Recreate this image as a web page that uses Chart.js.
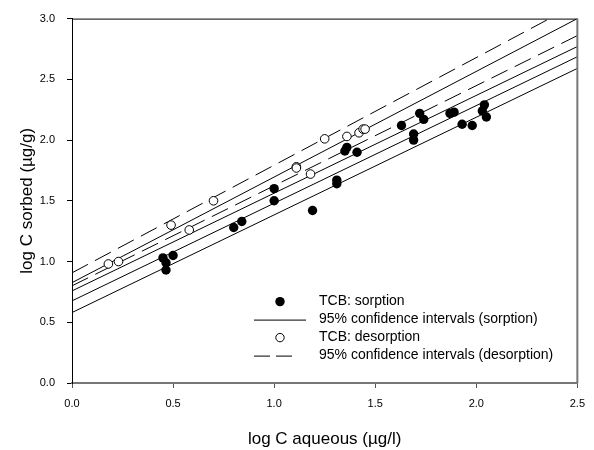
<!DOCTYPE html>
<html>
<head>
<meta charset="utf-8">
<script src="https://cdn.jsdelivr.net/npm/chart.js@4.4.0/dist/chart.umd.min.js"></script>
<style>
    html, body { margin: 0; padding: 0; background: #fff; }
</style>
</head>
<body>
<canvas id="myChart" width="594" height="450"></canvas>
<script>
// TCB sorption / desorption, log C aqueous vs log C sorbed
const sorptionX = [0.45, 0.465, 0.465, 0.50, 0.80, 0.84, 1.00, 1.00, 1.19, 1.31, 1.31, 1.35, 1.36, 1.41,
    1.63, 1.69, 1.69, 1.72, 1.74, 1.87, 1.89, 1.93, 1.98, 2.03, 2.04, 2.05];
const sorptionY = [1.03, 0.99, 0.93, 1.05, 1.28, 1.33, 1.60, 1.50, 1.42, 1.67, 1.64, 1.91, 1.94, 1.90,
    2.12, 2.05, 2.00, 2.22, 2.17, 2.22, 2.23, 2.13, 2.12, 2.24, 2.29, 2.19];

const desorptionX = [0.18, 0.23, 0.49, 0.58, 0.70, 1.11, 1.11, 1.18, 1.25, 1.36, 1.42, 1.44, 1.45];
const desorptionY = [0.98, 1.00, 1.30, 1.26, 1.50, 1.78, 1.77, 1.72, 2.01, 2.03, 2.06, 2.09, 2.09];

// regression lines and 95% CI, values at x = 0 and x = 2.5
const lineX = [0, 2.5];
const sorptionFit = [0.676, 2.686];
const sorptionUpper = [0.758, 2.77];
const sorptionLower = [0.58, 2.59];
const desorptionFit = [0.826, 3.0];
const desorptionUpper = [0.907, 3.122];
const desorptionLower = [0.80, 2.86];

const xTicks = [0, 0.5, 1, 1.5, 2, 2.5];
const yTicks = [0, 0.5, 1, 1.5, 2, 2.5, 3];

const legendLabels = [
    "TCB: sorption",
    "95% confidence intervals (sorption)",
    "TCB: desorption",
    "95% confidence intervals (desorption)",
];

const FONT = "Arial, 'Liberation Sans', sans-serif";

function toPoints(xs, ys) {
    return xs.map((x, i) => ({ x: x, y: ys[i] }));
}

function lineSet(ys, dashed) {
    return {
        type: "line",
        data: toPoints(lineX, ys),
        borderColor: "#000",
        borderWidth: 1,
        borderDash: dashed ? [18, 8] : [],
        pointRadius: 0,
        fill: false,
        showLine: true,
    };
}

// frame on top/right + legend inside the plot
const frameAndLegend = {
    id: "frameAndLegend",
    afterDraw(chart) {
        const c = chart.ctx;
        const a = chart.chartArea;
        c.save();
        c.strokeStyle = "#000";
        c.lineWidth = 1;
        c.beginPath();
        c.moveTo(a.left, a.top + 0.5);
        c.lineTo(a.right, a.top + 0.5);
        c.stroke();
        c.strokeStyle = "#777";
        c.lineWidth = 2;
        c.beginPath();
        c.moveTo(a.right, a.top);
        c.lineTo(a.right, a.bottom);
        c.stroke();

        const sx = a.left + 208;
        const tx = a.left + 247;
        const rows = [0, 1, 2, 3].map((i) => a.top + 283 + i * 18);
        c.font = "14px " + FONT;
        c.fillStyle = "#000";
        c.strokeStyle = "#000";
        c.lineWidth = 1;
        c.textBaseline = "middle";
        legendLabels.forEach((t, i) => c.fillText(t, tx, rows[i]));

        c.beginPath();
        c.arc(sx, rows[0], 4.7, 0, Math.PI * 2);
        c.fill();

        c.beginPath();
        c.moveTo(sx - 26, rows[1] + 0.5);
        c.lineTo(sx + 26, rows[1] + 0.5);
        c.stroke();

        c.beginPath();
        c.arc(sx, rows[2], 4.2, 0, Math.PI * 2);
        c.fillStyle = "#fff";
        c.fill();
        c.stroke();

        c.setLineDash([16, 6]);
        c.beginPath();
        c.moveTo(sx - 26, rows[3] + 0.5);
        c.lineTo(sx + 12, rows[3] + 0.5);
        c.stroke();
        c.restore();
    },
};

const ctx = document.getElementById("myChart").getContext("2d");
const myChart = new Chart(ctx, {
    type: "scatter",
    data: {
        datasets: [
            {
                data: toPoints(sorptionX, sorptionY),
                pointRadius: 4.7,
                pointBackgroundColor: "#000",
                pointBorderColor: "#000",
                pointBorderWidth: 0,
            },
            {
                data: toPoints(desorptionX, desorptionY),
                pointRadius: 4.3,
                pointBackgroundColor: "#fff",
                pointBorderColor: "#000",
                pointBorderWidth: 1,
            },
            lineSet(sorptionFit, false),
            lineSet(sorptionUpper, false),
            lineSet(sorptionLower, false),
            lineSet(desorptionFit, false),
            lineSet(desorptionUpper, true),
            lineSet(desorptionLower, true),
        ],
    },
    options: {
        responsive: false,
        animation: false,
        events: [],
        layout: { padding: { top: 15, right: 10, left: 0, bottom: 0 } },
        plugins: { legend: { display: false }, tooltip: { enabled: false } },
        scales: {
            x: {
                type: "linear",
                min: 0,
                max: 2.5,
                afterBuildTicks: (s) => { s.ticks = xTicks.map((v) => ({ value: v })); },
                afterFit: (s) => { s.height = 67; },
                ticks: {
                    callback: (v) => v.toFixed(1),
                    color: "#000",
                    font: { family: FONT, size: 11 },
                    padding: 9,
                    maxRotation: 0,
                },
                grid: { drawOnChartArea: false, drawTicks: true, tickLength: 5, color: "#555" },
                border: { display: true, color: "#777", width: 2 },
                title: {
                    display: true,
                    text: "log C aqueous (µg/l)",
                    color: "#000",
                    font: { family: FONT, size: 17 },
                    padding: { top: 0, bottom: 0 },
                },
            },
            y: {
                type: "linear",
                min: 0,
                max: 3,
                afterBuildTicks: (s) => { s.ticks = yTicks.map((v) => ({ value: v })); },
                afterFit: (s) => { s.width = 72; },
                ticks: {
                    callback: (v) => v.toFixed(1),
                    color: "#000",
                    font: { family: FONT, size: 11 },
                    padding: 12,
                },
                grid: { drawOnChartArea: false, drawTicks: true, tickLength: 5, color: "#000" },
                border: { display: true, color: "#000", width: 1 },
                title: {
                    display: true,
                    text: "log C sorbed (µg/g)",
                    color: "#000",
                    font: { family: FONT, size: 17 },
                    padding: { top: 17, bottom: 0 },
                },
            },
        },
    },
    plugins: [frameAndLegend],
});
</script>
</body>
</html>
